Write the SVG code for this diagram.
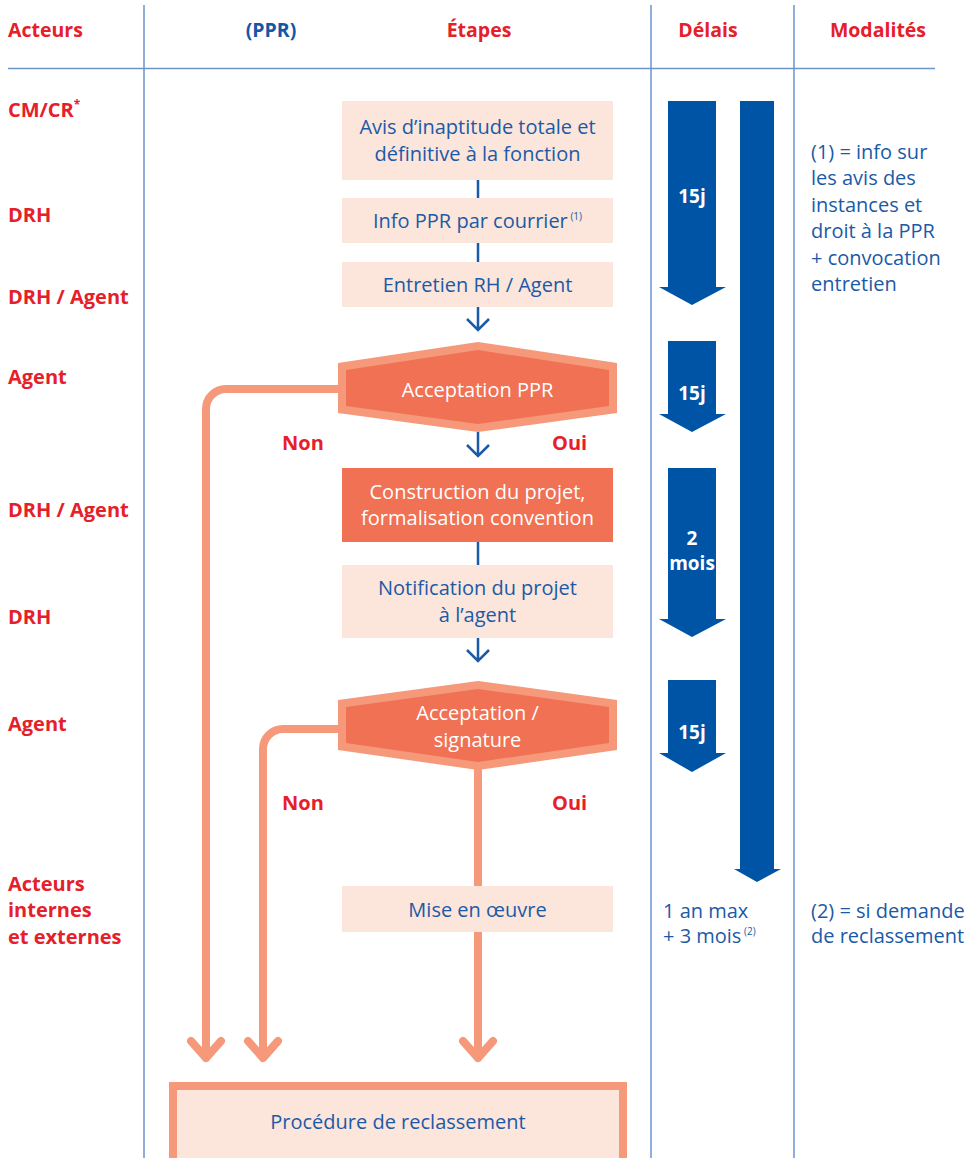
<svg xmlns="http://www.w3.org/2000/svg" width="979" height="1158" viewBox="0 0 979 1158">
<style>
.hdr{font-family:"Open Sans","Noto Sans",sans-serif;font-weight:bold;font-size:19.5px;fill:#E5202A}
.hdrb{font-family:"Open Sans","Noto Sans",sans-serif;font-weight:bold;font-size:19.5px;fill:#1457A5}
.act{font-family:"Open Sans","Noto Sans",sans-serif;font-weight:bold;font-size:20px;fill:#E5202A}
.t{font-family:"Open Sans","Noto Sans",sans-serif;font-size:20px;fill:#1B5AA6;text-anchor:middle}
.tw{font-family:"Open Sans","Noto Sans",sans-serif;font-size:20px;fill:#FFFFFF;text-anchor:middle}
.tl{font-family:"Open Sans","Noto Sans",sans-serif;font-size:20px;fill:#1B5AA6}
.d{font-family:"Open Sans","Noto Sans",sans-serif;font-weight:bold;font-size:19px;fill:#FFFFFF;text-anchor:middle}
.grid{stroke:#6B95CB;stroke-width:1.5;fill:none}
.light{fill:#FCE5DB}
.dark{fill:#F07153}
.border{fill:#F5997A}
.bl{stroke:#1B5AA6;stroke-width:2.5;fill:none}
.sal{stroke:#F5997A;stroke-width:8;fill:none;stroke-linecap:round;stroke-linejoin:round}
.arr{fill:#0054A6}
</style>

<g id="grid">
<line class="grid" x1="144" y1="5" x2="144" y2="1158"/>
<line class="grid" x1="651" y1="5" x2="651" y2="1158"/>
<line class="grid" x1="794" y1="5" x2="794" y2="1158"/>
<line class="grid" x1="8" y1="68.5" x2="935" y2="68.5" stroke-width="2"/>
</g>

<g id="headers">
<text class="hdr" x="8" y="37">Acteurs</text>
<text class="hdrb" x="271" y="37" text-anchor="middle">(PPR)</text>
<text class="hdr" x="479" y="37" text-anchor="middle">Étapes</text>
<text class="hdr" x="708" y="37" text-anchor="middle">Délais</text>
<text class="hdr" x="878" y="37" text-anchor="middle">Modalités</text>
</g>

<g id="actors">
<text class="act" x="8" y="117">CM/CR<tspan font-size="12" dy="-8">*</tspan></text>
<text class="act" x="8" y="222">DRH</text>
<text class="act" x="8" y="304">DRH / Agent</text>
<text class="act" x="8" y="384">Agent</text>
<text class="act" x="8" y="517">DRH / Agent</text>
<text class="act" x="8" y="624">DRH</text>
<text class="act" x="8" y="731">Agent</text>
<text class="act" x="8" y="891">Acteurs</text>
<text class="act" x="8" y="917">internes</text>
<text class="act" x="8" y="944">et externes</text>
</g>

<g id="connectors">
<line class="bl" x1="478" y1="180" x2="478" y2="198"/>
<line class="bl" x1="478" y1="243" x2="478" y2="262"/>
<path class="bl" d="M478,307 V330 M467,319 L478,330 L489,319"/>
<path class="bl" d="M478,432 V456 M467,445 L478,456 L489,445"/>
<line class="bl" x1="478" y1="542" x2="478" y2="565"/>
<path class="bl" d="M478,638 V661 M467,650 L478,661 L489,650"/>
<path class="sal" d="M338,389 H226 A20,20 0 0 0 206,409 V1058 M191,1041 L206,1058 L221,1041"/>
<path class="sal" d="M338,729 H283 A20,20 0 0 0 263,749 V1058 M248,1041 L263,1058 L278,1041"/>
<path class="sal" d="M478,770 V1058 M463,1041 L478,1058 L493,1041"/>
</g>

<g id="n-avis">
<rect class="light" x="342" y="101" width="271" height="79"/>
<text class="t" x="477.5" y="134">Avis d’inaptitude totale et</text>
<text class="t" x="477.5" y="161">définitive à la fonction</text>
</g>
<g id="n-info">
<rect class="light" x="342" y="198" width="271" height="45"/>
<text class="t" x="477.5" y="228">Info PPR par courrier<tspan font-size="10" dy="-8"> (1)</tspan></text>
</g>
<g id="n-entretien">
<rect class="light" x="342" y="262" width="271" height="45"/>
<text class="t" x="477.5" y="292">Entretien RH / Agent</text>
</g>
<g id="n-acceptation-ppr">
<polygon class="border" points="338,363 478,342 617,363 617,413 478,432 338,413"/>
<polygon class="dark" points="346,370 478,350 609,370 609,406 478,424 346,406"/>
<text class="tw" x="477.5" y="397">Acceptation PPR</text>
</g>
<g id="labels-1">
<text class="act" x="282" y="450">Non</text>
<text class="act" x="552" y="450">Oui</text>
</g>
<g id="n-construction">
<rect class="dark" x="342" y="468" width="271" height="74"/>
<text class="tw" x="477.5" y="499">Construction du projet,</text>
<text class="tw" x="477.5" y="525">formalisation convention</text>
</g>
<g id="n-notification">
<rect class="light" x="342" y="565" width="271" height="73"/>
<text class="t" x="477.5" y="595">Notification du projet</text>
<text class="t" x="477.5" y="622">à l’agent</text>
</g>
<g id="n-acceptation-signature">
<polygon class="border" points="338,700 478,681 617,700 617,750 478,770 338,750"/>
<polygon class="dark" points="346,707 478,689 609,707 609,743 478,762 346,743"/>
<text class="tw" x="477.5" y="720">Acceptation /</text>
<text class="tw" x="477.5" y="747">signature</text>
</g>
<g id="labels-2">
<text class="act" x="282" y="810">Non</text>
<text class="act" x="552" y="810">Oui</text>
</g>
<g id="n-mise">
<rect class="light" x="342" y="886" width="271" height="46"/>
<text class="t" x="477.5" y="917">Mise en œuvre</text>
</g>
<g id="n-reclassement">
<rect class="light" x="173" y="1086" width="450" height="100" stroke="#F5997A" stroke-width="8"/>
<text class="t" x="398" y="1129">Procédure de reclassement</text>
</g>

<g id="delais">
<polygon class="arr" points="668,101 716,101 716,287 726,287 692,305 659,287 668,287"/>
<text class="d" x="692" y="203">15j</text>
<polygon class="arr" points="668,341 716,341 716,414 726,414 692,432 659,414 668,414"/>
<text class="d" x="692" y="400">15j</text>
<polygon class="arr" points="668,468 716,468 716,619 726,619 692,637 659,619 668,619"/>
<text class="d" x="692" y="545" font-size="16">2</text>
<text class="d" x="692" y="570" font-size="16">mois</text>
<polygon class="arr" points="668,680 716,680 716,753 726,753 692,772 659,753 668,753"/>
<text class="d" x="692" y="739">15j</text>
<polygon class="arr" points="740,101 774,101 774,869 781,869 757,882 734,869 740,869"/>
<text class="tl" x="663" y="918">1 an max</text>
<text class="tl" x="663" y="943">+ 3 mois<tspan font-size="10" dy="-8"> (2)</tspan></text>
</g>

<g id="modalites">
<text class="tl" x="811" y="159">(1) = info sur</text>
<text class="tl" x="811" y="185">les avis des</text>
<text class="tl" x="811" y="212">instances et</text>
<text class="tl" x="811" y="238">droit à la PPR</text>
<text class="tl" x="811" y="265">+ convocation</text>
<text class="tl" x="811" y="291">entretien</text>
<text class="tl" x="811" y="918">(2) = si demande</text>
<text class="tl" x="811" y="943">de reclassement</text>
</g>
</svg>
